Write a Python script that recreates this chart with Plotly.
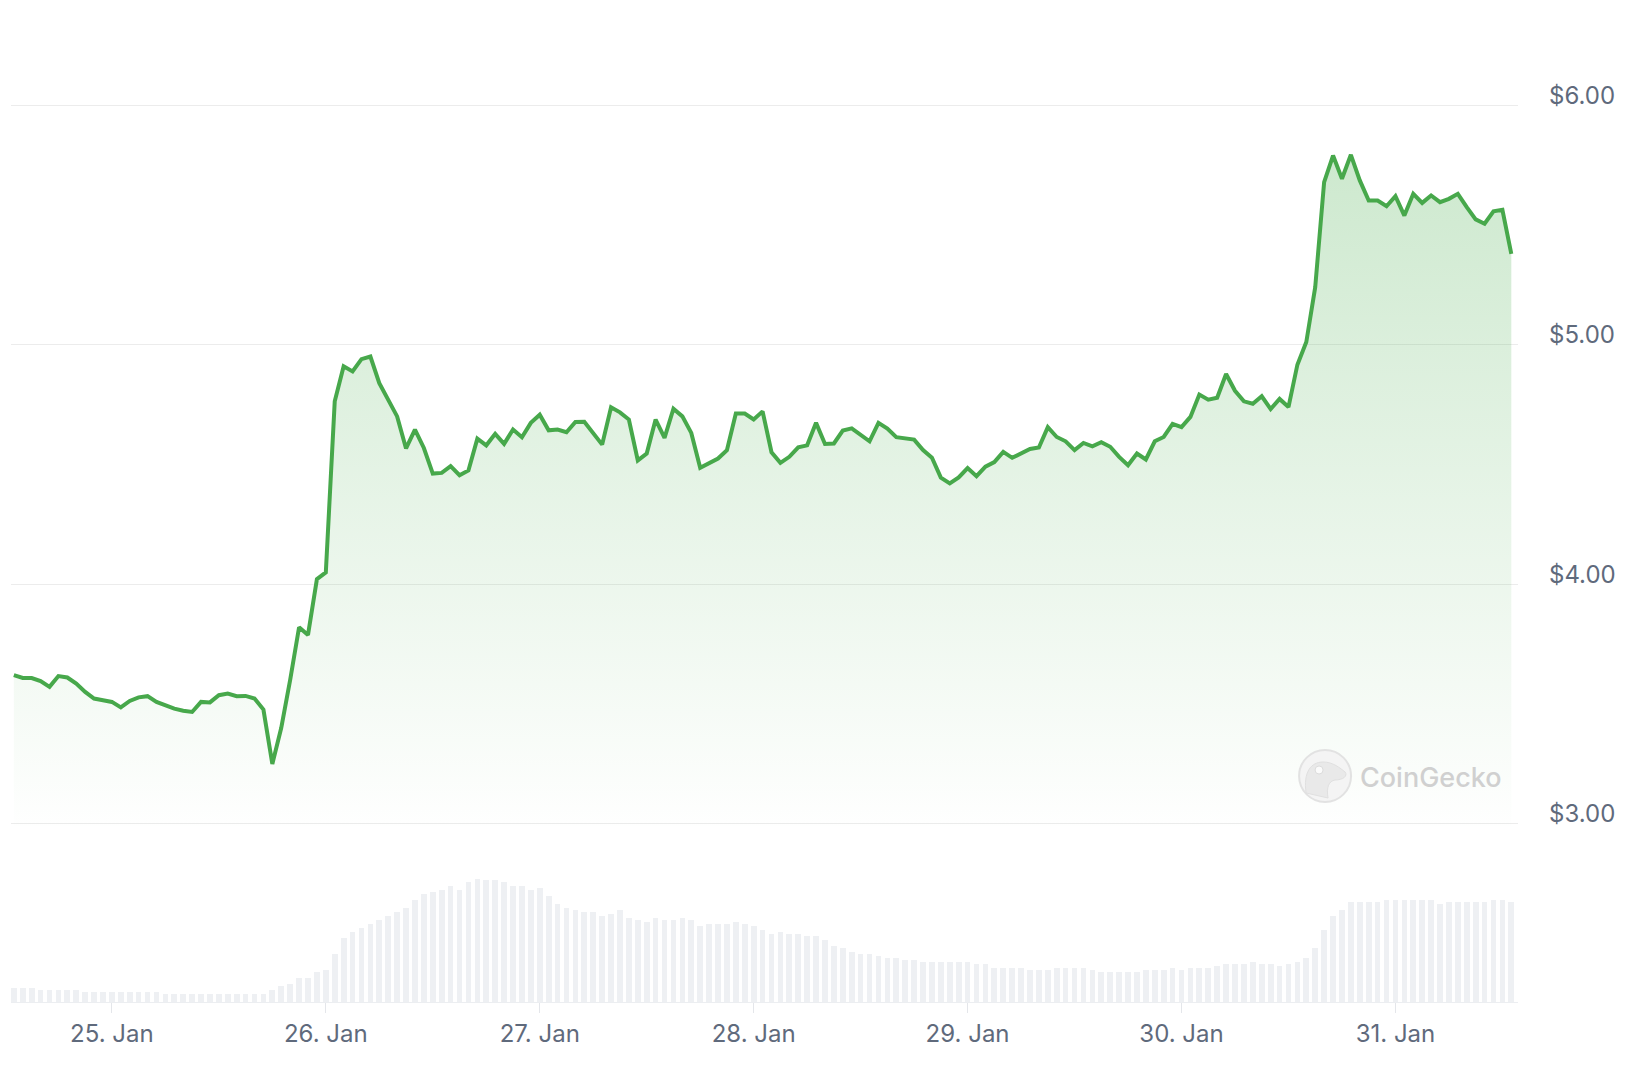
import pandas as pd
import plotly.graph_objects as go

# ---------------- data ----------------
start_time = "2025-01-24 13:00"
n_points = 169

prices = [
    3.620, 3.608, 3.608, 3.595, 3.571, 3.616, 3.610, 3.585, 3.550, 3.522,
    3.515, 3.508, 3.485, 3.512, 3.527, 3.532, 3.508, 3.494, 3.480, 3.471,
    3.466, 3.508, 3.506, 3.536, 3.543, 3.532, 3.533, 3.522, 3.476, 3.249,
    3.400, 3.600, 3.820, 3.788, 4.021, 4.049, 4.764, 4.910, 4.889, 4.940,
    4.951, 4.840, 4.771, 4.701, 4.567, 4.646, 4.569, 4.462, 4.465, 4.493,
    4.455, 4.475, 4.608, 4.580, 4.628, 4.586, 4.646, 4.614, 4.674, 4.708,
    4.643, 4.646, 4.635, 4.678, 4.679, 4.632, 4.583, 4.739, 4.718, 4.688,
    4.517, 4.546, 4.688, 4.611, 4.733, 4.701, 4.632, 4.486, 4.507, 4.525,
    4.560, 4.713, 4.713, 4.688, 4.722, 4.551, 4.507, 4.532, 4.572, 4.580,
    4.674, 4.586, 4.588, 4.642, 4.651, 4.622, 4.597, 4.674, 4.650, 4.614,
    4.610, 4.604, 4.560, 4.528, 4.445, 4.421, 4.446, 4.485, 4.451, 4.491,
    4.510, 4.553, 4.528, 4.545, 4.565, 4.571, 4.656, 4.615, 4.597, 4.560,
    4.590, 4.576, 4.593, 4.574, 4.532, 4.497, 4.546, 4.521, 4.597, 4.615,
    4.670, 4.656, 4.699, 4.792, 4.771, 4.779, 4.878, 4.808, 4.764, 4.754,
    4.785, 4.732, 4.774, 4.740, 4.917, 5.012, 5.241, 5.680, 5.791, 5.694,
    5.794, 5.687, 5.603, 5.603, 5.579, 5.621, 5.540, 5.631, 5.593, 5.624,
    5.596, 5.610, 5.631, 5.575, 5.524, 5.506, 5.558, 5.564, 5.380,
]

volumes = [
    42, 42, 42, 35, 35, 35, 35, 35, 29, 29,
    29, 29, 29, 29, 29, 29, 29, 23, 23, 23,
    23, 23, 23, 23, 23, 23, 23, 23, 23, 35,
    47, 53, 72, 72, 89, 95, 143, 191, 210, 221,
    233, 245, 257, 269, 281, 305, 323, 329, 335, 347,
    335, 359, 370, 365, 365, 359, 347, 347, 335, 342,
    317, 293, 281, 275, 269, 269, 257, 263, 275, 251,
    245, 239, 251, 245, 245, 251, 245, 227, 233, 233,
    233, 239, 233, 227, 215, 203, 209, 203, 203, 197,
    197, 185, 167, 161, 149, 143, 143, 137, 131, 131,
    125, 125, 119, 119, 119, 119, 119, 119, 113, 113,
    101, 101, 101, 101, 95, 95, 95, 101, 101, 101,
    101, 95, 89, 89, 89, 89, 89, 95, 95, 95,
    101, 95, 101, 101, 101, 107, 113, 113, 113, 119,
    113, 113, 107, 113, 119, 131, 161, 215, 257, 275,
    299, 299, 299, 299, 305, 305, 305, 305, 305, 305,
    293, 299, 299, 299, 299, 299, 305, 305, 299,
]

day_ticks = ["2025-01-25", "2025-01-26", "2025-01-27", "2025-01-28",
             "2025-01-29", "2025-01-30", "2025-01-31"]
day_labels = ["25. Jan", "26. Jan", "27. Jan", "28. Jan",
              "29. Jan", "30. Jan", "31. Jan"]
price_ticks = [3, 4, 5, 6]
price_labels = ["$3.00", "$4.00", "$5.00", "$6.00"]
watermark = "CoinGecko"

times = pd.date_range(start_time, periods=n_points, freq="h")

# ---------------- layout geometry (page pixels) ----------------
OFF = 8.0                  # default body margin of the html page
W, H = 1646 - 2 * int(OFF), 1082 - 2 * int(OFF)
PL, PR = 10.5 - OFF, 1518.0 - OFF     # plot left/right (figure px)
PB = 1002.0 - OFF                     # plot bottom (volume baseline)
PRICE_BOTTOM_PX = 826.0 - OFF
VOL_TOP_PX = 840.0 - OFF
PX_PER_DOLLAR = 239.33
Y6_PX = 105.5 - OFF
Y3_PX = 823.5 - OFF
HOUR = pd.Timedelta(hours=1)

fig = go.Figure()

fig.add_trace(go.Bar(
    x=times, y=volumes, yaxis="y2", xaxis="x",
    marker=dict(color="#eef0f3", line=dict(width=0)),
    width=0.64 * 3600 * 1000,
    hoverinfo="skip",
))

fig.add_trace(go.Scatter(
    x=times, y=prices, mode="lines", xaxis="x", yaxis="y",
    line=dict(color="#47a84b", width=4),
    fill="tozeroy",
    fillgradient=dict(
        type="vertical",
        colorscale=[[0, "rgba(76,175,80,0)"], [1, "rgba(76,175,80,0.28)"]],
        start=2.95, stop=5.8,
    ),
    hovertemplate="%{x}<br>$%{y:.3f}<extra></extra>",
))

tick_color = "#5f6a7c"
font_family = "Inter, Roboto, 'Noto Sans', sans-serif"

fig.update_layout(
    width=W, height=H,
    margin=dict(l=PL, r=W - PR, t=0, b=H - PB),
    paper_bgcolor="white", plot_bgcolor="white",
    showlegend=False,
    bargap=0,
    xaxis=dict(
        type="date",
        range=[times[0] - 0.32 * HOUR, times[-1] + 0.75 * HOUR],
        anchor="y2",
        tickvals=day_ticks, ticktext=day_labels,
        ticks="outside", ticklen=10, tickwidth=1, tickcolor="#e4e6ea",
        showgrid=False, zeroline=False,
        showline=True, linecolor="#eceef1", linewidth=1,
        tickfont=dict(family=font_family, size=24, color=tick_color),
    ),
    yaxis=dict(
        domain=[(PB - PRICE_BOTTOM_PX) / PB, 1],
        range=[3 - (PRICE_BOTTOM_PX - Y3_PX) / PX_PER_DOLLAR,
               6 + Y6_PX / PX_PER_DOLLAR],
        side="right", anchor="x",
        tickvals=price_ticks, ticktext=price_labels,
        showgrid=True, gridcolor="#ececec", gridwidth=1,
        zeroline=False, showline=False, ticks="",
        ticklabelstandoff=30, ticklabelshift=-10,
        tickfont=dict(family=font_family, size=24, color=tick_color),
    ),
    yaxis2=dict(
        domain=[0, (PB - VOL_TOP_PX) / PB],
        range=[0, 486],
        showticklabels=False, showgrid=False, zeroline=False, ticks="",
    ),
)

# ---------------- CoinGecko watermark ----------------
def px_to_paper(x, y):
    """page pixel -> paper coordinates"""
    return (x - OFF - PL) / (PR - PL), (PB - (y - OFF)) / PB

cx, cy, r = 1325.0, 776.0, 26.0
x0, y0 = px_to_paper(cx - r, cy + r)
x1, y1 = px_to_paper(cx + r, cy - r)
fig.add_shape(type="circle", xref="paper", yref="paper",
              x0=x0, y0=y0, x1=x1, y1=y1,
              line=dict(color="#e2e2e2", width=2), fillcolor="#f4f4f4",
              layer="above")

head = [(-19, 17), (-22, -4), (-14, -14), (-2, -14), (8, -14), (15, -8),
        (20, -4), (23, 0), (18, 4), (10, 4), (4, 5), (1, 11), (3, 22)]
pts = [px_to_paper(cx + dx, cy + dy) for dx, dy in head]
path = "M {:.5f},{:.5f} ".format(*pts[0])
for i in range(1, len(pts) - 2, 3):
    path += "C {:.5f},{:.5f} {:.5f},{:.5f} {:.5f},{:.5f} ".format(
        *pts[i], *pts[i + 1], *pts[i + 2])
path += "Z"
fig.add_shape(type="path", xref="paper", yref="paper", path=path,
              line=dict(color="#e0e0e0", width=1), fillcolor="#e9e9e9",
              layer="above")
ex0, ey0 = px_to_paper(cx - 10, cy - 2)
ex1, ey1 = px_to_paper(cx - 2, cy - 10)
fig.add_shape(type="circle", xref="paper", yref="paper",
              x0=ex0, y0=ey0, x1=ex1, y1=ey1,
              line=dict(color="#dcdcdc", width=1), fillcolor="#fbfbfb",
              layer="above")

tx, ty = px_to_paper(1431, 777)
fig.add_annotation(text=watermark, xref="paper", yref="paper", x=tx, y=ty,
                   xanchor="center", yanchor="middle", showarrow=False,
                   font=dict(family=font_family, size=27, color="#d0d0d0",
                             weight=500))

fig.write_html("out.html")
